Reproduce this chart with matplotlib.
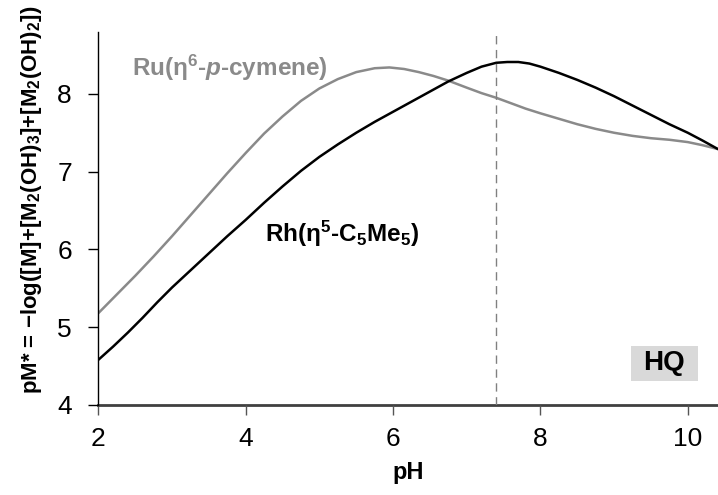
import matplotlib
matplotlib.use("Agg")
import matplotlib.pyplot as plt
from matplotlib.patches import Rectangle

plt.rcParams['font.family'] = ['Liberation Sans', 'DejaVu Sans']
plt.rcParams['mathtext.fontset'] = 'custom'
plt.rcParams['mathtext.rm'] = 'Liberation Sans:bold'
plt.rcParams['mathtext.bf'] = 'Liberation Sans:bold'
plt.rcParams['mathtext.it'] = 'Liberation Sans:italic:bold'
plt.rcParams['mathtext.default'] = 'bf'

# pH values and pM* readings
ph_ru = [2.0, 2.25, 2.5, 2.75, 3.0, 3.25, 3.5, 3.75, 4.0, 4.25, 4.5, 4.75, 5.0, 5.25,
         5.5, 5.75, 5.95, 6.15, 6.35, 6.55, 6.75, 7.0, 7.2, 7.4, 7.6, 7.8, 8.0, 8.25,
         8.5, 8.75, 9.0, 9.25, 9.5, 9.75, 10.0, 10.2, 10.41]
pm_ru = [5.18, 5.42, 5.66, 5.91, 6.17, 6.44, 6.71, 6.98, 7.24, 7.49, 7.71, 7.91, 8.07, 8.19,
         8.28, 8.33, 8.34, 8.32, 8.28, 8.23, 8.17, 8.08, 8.01, 7.95, 7.88, 7.81, 7.75, 7.68,
         7.61, 7.55, 7.50, 7.46, 7.43, 7.41, 7.38, 7.34, 7.29]

ph_rh = [2.0, 2.2, 2.4, 2.6, 2.8, 3.0, 3.25, 3.5, 3.75, 4.0, 4.25, 4.5, 4.75, 5.0,
         5.25, 5.5, 5.75, 6.0, 6.25, 6.5, 6.75, 7.0, 7.2, 7.4, 7.55, 7.7, 7.85, 8.0,
         8.25, 8.5, 8.75, 9.0, 9.25, 9.5, 9.75, 10.0, 10.2, 10.41]
pm_rh = [4.58, 4.75, 4.93, 5.12, 5.32, 5.51, 5.73, 5.95, 6.17, 6.38, 6.60, 6.81, 7.01, 7.19,
         7.35, 7.50, 7.64, 7.77, 7.90, 8.03, 8.16, 8.27, 8.35, 8.40, 8.41, 8.41, 8.39, 8.35,
         8.27, 8.18, 8.08, 7.97, 7.85, 7.73, 7.61, 7.50, 7.40, 7.29]

ph_ref = 7.4
x_ticks = [2, 4, 6, 8, 10]
y_ticks = [4, 5, 6, 7, 8]

fig = plt.figure(figsize=(7.18, 4.95), dpi=100)
ax = fig.add_axes([0.137, 0.182, 0.863, 0.754])

ax.plot(ph_ru, pm_ru, color='#8a8a8a', lw=1.8, solid_capstyle='round', solid_joinstyle='round')
ax.plot(ph_rh, pm_rh, color='black', lw=1.8, solid_capstyle='round', solid_joinstyle='round')
ax.axvline(ph_ref, color='#808080', lw=1.0, ls=(0, (6, 4)))

ax.set_xlim(2, 10.41)
ax.set_ylim(4, 8.8)
ax.set_xticks(x_ticks)
ax.set_yticks(y_ticks)
ax.tick_params(axis='both', labelsize=19, direction='out', length=7, width=1)
ax.tick_params(axis='x', colors='#555555', labelcolor='black', pad=9)
ax.tick_params(axis='y', colors='black', pad=12)

for s in ['top', 'right']:
    ax.spines[s].set_visible(False)
ax.spines['left'].set_color('black')
ax.spines['left'].set_linewidth(1.0)
ax.spines['bottom'].set_color('#404040')
ax.spines['bottom'].set_linewidth(2.0)
ax.spines['bottom'].set_zorder(1)

ax.set_xlabel('pH', fontsize=17, fontweight='bold', labelpad=7)
ax.set_ylabel(r'pM* = $-$log([M]+[M$_2$(OH)$_3$]+[M$_2$(OH)$_2$])',
              fontsize=16, fontweight='bold', labelpad=8)
ax.yaxis.set_label_coords(-0.088, 0.55)

ax.text(2.46, 8.34, r'Ru(η$^6$-$\mathit{p}$-cymene)', fontsize=17.5, fontweight='bold',
        color='#8a8a8a', ha='left', va='center')
ax.text(4.26, 6.2, r'Rh(η$^5$-C$_5$Me$_5$)', fontsize=17.5, fontweight='bold',
        color='black', ha='left', va='center')
ax.add_patch(Rectangle((9.228, 4.312), 0.905, 0.45, facecolor='#d9d9d9',
                       edgecolor='none', zorder=3))
ax.text(9.68, 4.54, 'HQ', fontsize=20, fontweight='bold', color='black',
        ha='center', va='center', zorder=4)

fig.savefig('out.png', dpi=100)
